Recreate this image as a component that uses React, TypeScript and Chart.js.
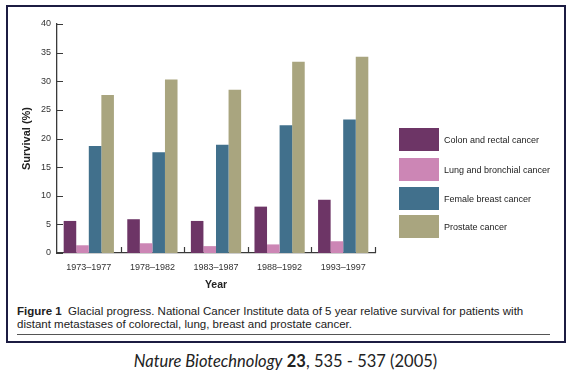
import React, { useEffect, useRef } from "react";
import { Chart, registerables } from "chart.js";

Chart.register(...registerables);

const categories = ["1973–1977", "1978–1982", "1983–1987", "1988–1992", "1993–1997"];
const seriesNames = [
  "Colon and rectal cancer",
  "Lung and bronchial cancer",
  "Female breast cancer",
  "Prostate cancer",
];
const colonValues = [5.6, 5.9, 5.6, 8.1, 9.3];
const lungValues = [1.35, 1.7, 1.2, 1.5, 2.05];
const breastValues = [18.7, 17.6, 18.9, 22.3, 23.3];
const prostateValues = [27.6, 30.3, 28.5, 33.4, 34.3];
const seriesColors = ["#6d3566", "#cc86b5", "#41708c", "#a9a57f"];
const yTicks = [0, 5, 10, 15, 20, 25, 30, 35, 40];

const FONT = "'Liberation Sans', Arial, Helvetica, sans-serif";
const AXIS = "#3a3a3a";

const inwardTicks = {
  id: "inwardTicks",
  afterDraw(chart: any) {
    const { ctx } = chart;
    const x = chart.scales.x;
    const y = chart.scales.y;
    ctx.save();
    ctx.strokeStyle = AXIS;
    ctx.lineWidth = 1.2;
    ctx.beginPath();
    yTicks.forEach((v) => {
      const py = Math.round(y.getPixelForValue(v)) + 0.5;
      ctx.moveTo(x.left, py);
      ctx.lineTo(x.left + 6, py);
    });
    for (let i = 0; i < categories.length; i++) {
      const px = Math.round(x.getPixelForValue(i + 0.5)) + 0.5;
      ctx.moveTo(px, y.bottom);
      ctx.lineTo(px, y.bottom - 6);
    }
    ctx.stroke();
    ctx.restore();
  },
};

export default function App() {
  const ref = useRef<HTMLCanvasElement>(null);
  useEffect(() => {
    if (!ref.current) return;
    const values = [colonValues, lungValues, breastValues, prostateValues];
    const chart = new Chart(ref.current, {
      type: "bar",
      data: {
        labels: categories,
        datasets: seriesNames.map((name, i) => ({
          label: name,
          data: values[i],
          backgroundColor: seriesColors[i],
          borderWidth: 0,
          categoryPercentage: 0.79,
          barPercentage: 1.0,
        })),
      },
      options: {
        responsive: false,
        maintainAspectRatio: false,
        animation: false,
        layout: { padding: { left: 0, top: 24, right: 196, bottom: 0 } },
        plugins: {
          legend: { display: false },
          tooltip: { enabled: false },
        },
        scales: {
          x: {
            offset: true,
            grid: { display: false, tickLength: 0 },
            border: { display: true, color: AXIS, width: 1.3 },
            ticks: {
              color: "#333",
              padding: 9,
              font: { family: FONT, size: 9 },
              maxRotation: 0,
            },
            title: {
              display: true,
              text: "Year",
              color: "#222",
              font: { family: FONT, size: 10.5, weight: "bold" },
              padding: { top: 0, bottom: 9 },
            },
            afterFit(scale: any) {
              scale.height = 47;
            },
          },
          y: {
            min: 0,
            max: 40,
            grid: { display: false, tickLength: 0 },
            border: { display: true, color: AXIS, width: 1.3 },
            afterBuildTicks(scale: any) {
              scale.ticks = yTicks.map((v) => ({ value: v }));
            },
            ticks: {
              color: "#333",
              padding: 6,
              font: { family: FONT, size: 9 },
            },
            title: {
              display: true,
              text: "Survival (%)",
              color: "#222",
              font: { family: FONT, size: 11, weight: "bold" },
              padding: { top: 20, bottom: 0 },
            },
            afterFit(scale: any) {
              scale.width = 57;
            },
          },
        },
      },
      plugins: [inwardTicks],
    });
    return () => chart.destroy();
  }, []);

  const legendTops = [128, 158, 187, 215];

  return (
    <div
      style={{
        position: "absolute",
        left: 0,
        top: 0,
        width: 571,
        height: 375,
        background: "#fff",
        overflow: "hidden",
      }}
    >
      <div
        style={{
          position: "absolute",
          left: 6,
          top: 5,
          width: 560,
          height: 338,
          boxSizing: "border-box",
          border: "2px solid #1c1c42",
        }}
      />
      <canvas
        ref={ref}
        width={571}
        height={300}
        style={{ position: "absolute", left: 0, top: 0, width: 571, height: 300 }}
      />
      {seriesNames.map((name, i) => (
        <div
          key={name}
          style={{
            position: "absolute",
            left: 399,
            top: legendTops[i],
            height: 23,
            display: "flex",
            alignItems: "center",
            fontFamily: FONT,
            fontSize: 9,
            color: "#222",
            whiteSpace: "nowrap",
          }}
        >
          <div style={{ width: 40, height: 23, background: seriesColors[i], marginRight: 5 }} />
          <span>{name}</span>
        </div>
      ))}
      <div
        style={{
          position: "absolute",
          left: 17,
          top: 305,
          width: 540,
          fontFamily: FONT,
          fontSize: 11.5,
          lineHeight: "12.5px",
          color: "#222",
          whiteSpace: "nowrap",
        }}
      >
        <div>
          <b>Figure 1</b>&nbsp; Glacial progress. National Cancer Institute data of 5 year relative survival for patients with
        </div>
        <div>distant metastases of colorectal, lung, breast and prostate cancer.</div>
      </div>
      <div
        style={{
          position: "absolute",
          left: 17,
          top: 334,
          width: 533,
          height: 1,
          background: "#555",
        }}
      />
      <div
        style={{
          position: "absolute",
          left: 0,
          top: 351,
          width: 571,
          textAlign: "center",
          fontFamily: "Lato, 'Open Sans', sans-serif",
          fontSize: 16.5,
          lineHeight: "20px",
          color: "#222",
        }}
      >
        <i>Nature Biotechnology</i> <b>23</b>, 535 - 537 (2005)
      </div>
    </div>
  );
}
